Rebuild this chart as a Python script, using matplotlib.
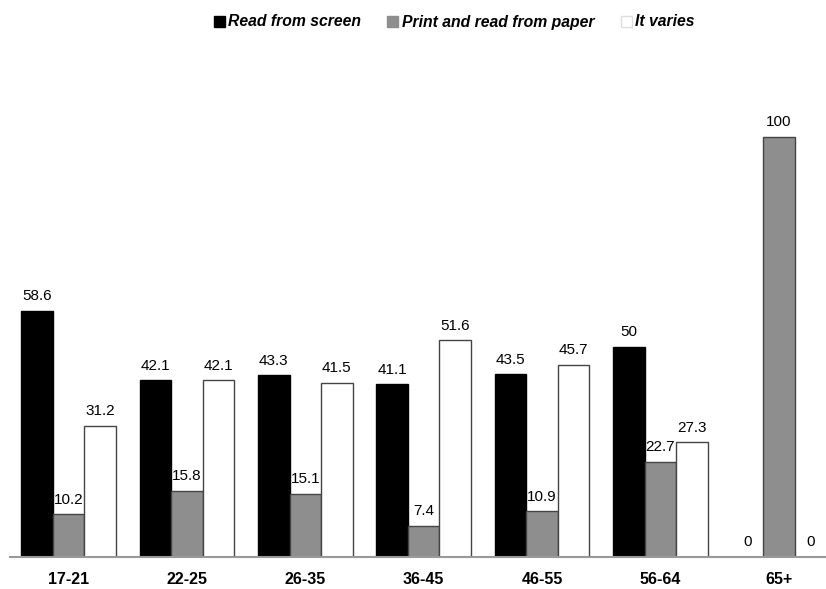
import numpy as np
from matplotlib import pyplot as plt
from matplotlib.patches import Patch

plt.rcParams['font.family'] = ['Liberation Sans', 'DejaVu Sans']

groups = ['17-21', '22-25', '26-35', '36-45', '46-55', '56-64', '65+']
screen = [58.6, 42.1, 43.3, 41.1, 43.5, 50, 0]
paper = [10.2, 15.8, 15.1, 7.4, 10.9, 22.7, 100]
varies = [31.2, 42.1, 41.5, 51.6, 45.7, 27.3, 0]

series = [
    ('Read from screen', screen, '#000000', '#000000'),
    ('Print and read from paper', paper, '#8e8e8e', '#444444'),
    ('It varies', varies, '#ffffff', '#444444'),
]

fig = plt.figure(figsize=(8.26, 5.89), dpi=100)
ax = fig.add_axes([10 / 826, 32 / 589, 816 / 826, 525 / 589])

x = np.arange(len(groups))
w = 0.266
for k, (name, vals, fc, ec) in enumerate(series):
    pos = x + (k - 1) * w
    ax.bar(pos, vals, width=w, color=fc, edgecolor=ec, linewidth=1)
    for p, v in zip(pos, vals):
        ax.text(p, v + 1.8, f'{v:g}', ha='center', va='bottom', fontsize=11)

ax.set_xlim((10 - 68.5) / 118.4, (826 - 68.5) / 118.4)
ax.set_ylim(0, 125)
ax.set_yticks([])
ax.set_xticks(x)
ax.set_xticklabels(groups, fontweight='bold', fontsize=11.5)
ax.tick_params(axis='x', length=0, pad=11)
for s in ['top', 'right', 'left']:
    ax.spines[s].set_visible(False)
ax.spines['bottom'].set_color('#999999')
ax.spines['bottom'].set_linewidth(1.5)

handles = [Patch(facecolor=fc, edgecolor=('#dddddd' if fc == '#ffffff' else fc), label=name)
           for name, _, fc, ec in series]
fig.legend(handles=handles, loc='center', bbox_to_anchor=(454 / 826, 1 - 22 / 589), ncol=3,
           frameon=False, prop={'weight': 'bold', 'style': 'italic', 'size': 11.3},
           handlelength=0.7, handleheight=0.7, handletextpad=0.2, columnspacing=1.7)

fig.savefig('out.png', dpi=100)
